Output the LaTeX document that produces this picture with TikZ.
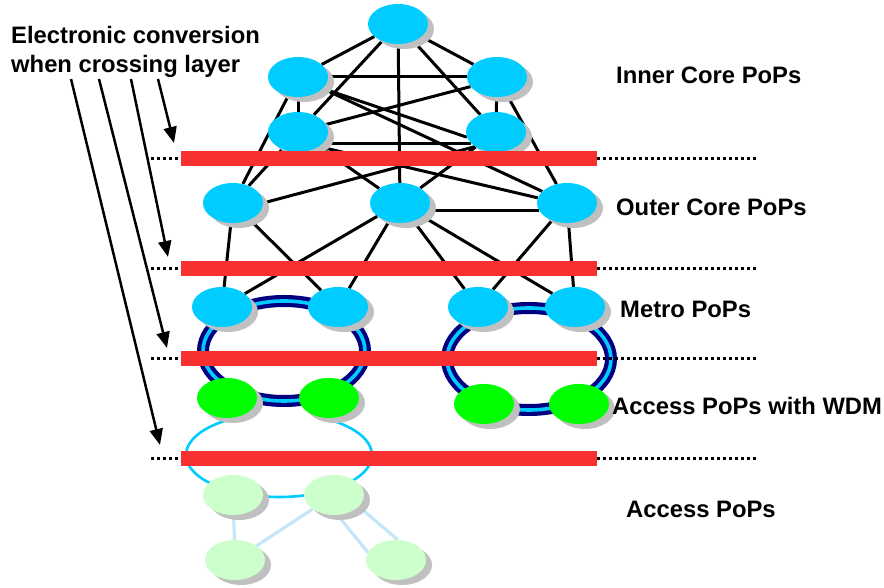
\documentclass[tikz,border=0pt]{standalone}
\usepackage{fontspec}
\setmainfont{Liberation Sans}
\usetikzlibrary{arrows.meta,shapes.geometric,shadows}
\definecolor{popblue}{HTML}{00CCFF}
\definecolor{popgreen}{HTML}{00FF00}
\definecolor{poplight}{HTML}{CCFFCC}
\definecolor{barred}{HTML}{F83030}
\definecolor{ringnavy}{HTML}{000080}
\definecolor{ringcyan}{HTML}{00CCFF}
\definecolor{acclink}{HTML}{C4E6F8}
\definecolor{shadowgray}{HTML}{C0C0C0}
\pgfdeclarelayer{bg}
\pgfdeclarelayer{fg}
\pgfsetlayers{bg,main,fg}
\begin{document}
\begin{tikzpicture}[x=1pt,y=1pt,
  pop/.style={ellipse, minimum width=60pt, minimum height=40pt, inner sep=0pt, draw=none,
    drop shadow={shadow xshift=6pt, shadow yshift=-5pt, fill=shadowgray, opacity=1}},
  corepop/.style={pop, fill=popblue},
  wdmpop/.style={pop, fill=popgreen},
  accpop/.style={pop, fill=poplight},
  link/.style={line width=3pt, black},
  acclinkstyle/.style={line width=3.2pt, acclink},
  ringouter/.style={line width=12pt, ringnavy},
  ringinner/.style={line width=3.6pt, ringcyan},
  accring/.style={line width=2.6pt, ringcyan},
  barnode/.style={rectangle, fill=barred, draw=none, minimum width=416pt, minimum height=15pt, inner sep=0pt},
  dotline/.style={line width=3.2pt, black, dash pattern=on 3pt off 3pt},
  pointer/.style={line width=2.5pt, black, -{Triangle[length=16pt,width=13pt]}},
  lbl/.style={font=\fontsize{23.8pt}{28pt}\selectfont\bfseries, inner sep=0pt, text=black, anchor=base west}
]
\useasboundingbox (0,0) rectangle (884,588);

% ---------- nodes ----------
\node[corepop] (T)   at (398,564) {};
\node[corepop] (UL)  at (298,511) {};
\node[corepop] (UR)  at (497,511) {};
\node[corepop] (LL)  at (298,456) {};
\node[corepop] (LR)  at (496,456) {};
\node[corepop] (OL)  at (233,385) {};
\node[corepop] (OM)  at (400,385) {};
\node[corepop] (OR)  at (567,385) {};
\node[corepop] (ML1) at (222,281) {};
\node[corepop] (ML2) at (338,281) {};
\node[corepop] (MR1) at (478,281) {};
\node[corepop] (MR2) at (575,281) {};
\node[wdmpop]  (AL1) at (227,190) {};
\node[wdmpop]  (AL2) at (329,190) {};
\node[wdmpop]  (AR1) at (484,184) {};
\node[wdmpop]  (AR2) at (579,184) {};
\node[accpop]  (B1)  at (233,93) {};
\node[accpop]  (B2)  at (334,93) {};
\node[accpop]  (B3)  at (235,28) {};
\node[accpop]  (B4)  at (396,28) {};

\coordinate (ringL) at (284,237);
\coordinate (ringR) at (529,229);
\coordinate (accC)  at (279,133);

% ---------- links (behind nodes) ----------
\begin{pgfonlayer}{bg}
  \draw[link] (T) -- (UL);
  \draw[link] (T) -- (UR);
  \draw[link] (T) -- (LL);
  \draw[link] (T) -- (LR);
  \draw[link] (T) -- (OM);
  \draw[link] (UL) -- (UR);
  \draw[link] (UL) -- (LL);
  \draw[link] (UR) -- (LR);
  \draw[link] (UL.-25) -- (LR.190);
  \draw[link] (LL.15) -- (UR.200);
  \draw[link] (LL.-25) -- (LR.205);
  \draw[link] (UL) -- (OR);
  \draw[link] (UR) -- (OR);
  \draw[link] (UL) -- (OL);
  \draw[link] (LL) -- (OL);
  \draw[link] (LL) -- (OM);
  \draw[link] (LL.-35) -- (OR.170);
  \draw[link] (OL.east) -- (LR.215);
  \draw[link] (LR) -- (OM);
  \draw[link] (OM.-15) -- (OR.195);
  \draw[link] (OL) -- (ML1);
  \draw[link] (OL) -- (ML2);
  \draw[link] (OM) -- (ML1);
  \draw[link] (OM) -- (ML2);
  \draw[link] (OM) -- (MR1);
  \draw[link] (OM) -- (MR2);
  \draw[link] (OR) -- (MR1);
  \draw[link] (OR) -- (MR2);
  % metro WDM rings
  \draw[ringouter] (ringL) ellipse[x radius=81pt, y radius=50pt];
  \draw[ringinner] (ringL) ellipse[x radius=81pt, y radius=50pt];
  \draw[ringouter] (ringR) ellipse[x radius=82pt, y radius=51pt];
  \draw[ringinner] (ringR) ellipse[x radius=82pt, y radius=51pt];
  % access ring and links
  \draw[accring] ([shift={(125:93pt and 42pt)}]accC) arc[start angle=125, end angle=415, x radius=93pt, y radius=42pt];
  \draw[acclinkstyle] (B1) -- (B3);
  \draw[acclinkstyle] (B2) -- (B3);
  \draw[acclinkstyle] (B2.-80) -- (B4.165);
  \draw[acclinkstyle] (B2.-25) -- (B4.85);
\end{pgfonlayer}

% ---------- layer bars, dotted lines, labels, pointers ----------
\begin{pgfonlayer}{fg}
  \node[barnode] (bar1) at (389,429.5) {};
  \node[barnode] (bar2) at (389,319.5) {};
  \node[barnode] (bar3) at (389,229.5) {};
  \node[barnode] (bar4) at (389,129.5) {};
  \coordinate (d1l) at (151,429.5); \coordinate (d1r) at (758,429.5);
  \coordinate (d2l) at (151,319.5); \coordinate (d2r) at (758,319.5);
  \coordinate (d3l) at (151,229.5); \coordinate (d3r) at (758,229.5);
  \coordinate (d4l) at (151,129.5); \coordinate (d4r) at (758,129.5);
  \draw[dotline] (d1l) -- (bar1.west);  \draw[dotline] (bar1.east) -- (d1r);
  \draw[dotline] (d2l) -- (bar2.west);  \draw[dotline] (bar2.east) -- (d2r);
  \draw[dotline] (d3l) -- (bar3.west);  \draw[dotline] (bar3.east) -- (d3r);
  \draw[dotline] (d4l) -- (bar4.west);  \draw[dotline] (bar4.east) -- (d4r);

  \node[lbl] (title1) at (11,544) {Electronic conversion};
  \node[lbl] (title2) at (11,515) {when crossing layer};
  \node[lbl] (tInner)  at (616,504) {Inner Core PoPs};
  \node[lbl] (tOuter)  at (616,372) {Outer Core PoPs};
  \node[lbl] (tMetro)  at (620,270) {Metro PoPs};
  \node[lbl] (tWDM)    at (612,173) {Access PoPs with WDM};
  \node[lbl] (tAccess) at (626,70)  {Access PoPs};

  \coordinate (a1s) at (158,509); \coordinate (a1e) at (174,445);
  \coordinate (a2s) at (131,509); \coordinate (a2e) at (168,331);
  \coordinate (a3s) at (99,509);  \coordinate (a3e) at (167,240);
  \coordinate (a4s) at (71,509);  \coordinate (a4e) at (160,143);
  \draw[pointer] (a1s) -- (a1e);
  \draw[pointer] (a2s) -- (a2e);
  \draw[pointer] (a3s) -- (a3e);
  \draw[pointer] (a4s) -- (a4e);
\end{pgfonlayer}
\end{tikzpicture}
\end{document}
